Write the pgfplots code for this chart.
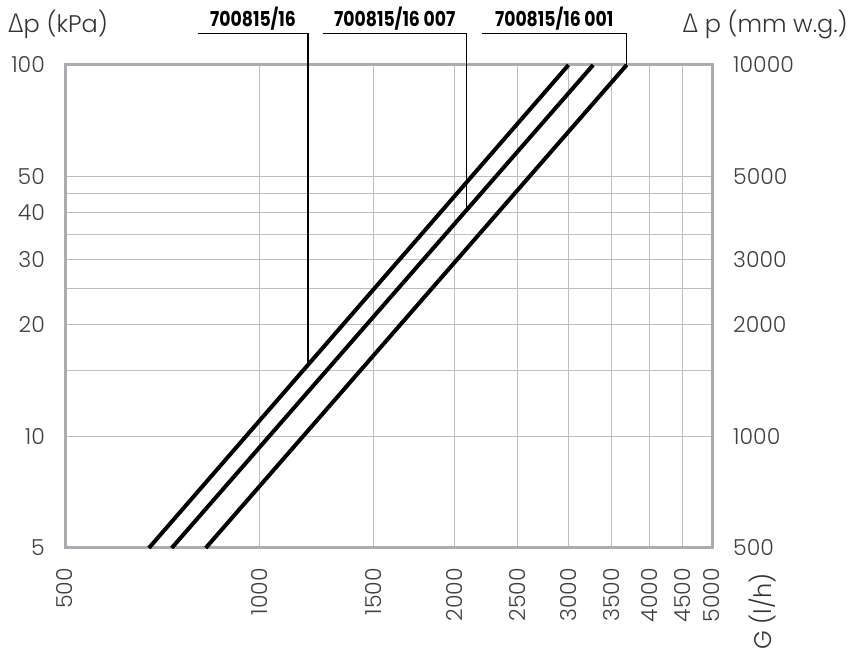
\documentclass[border=0pt]{standalone}
\usepackage{fontspec}
\setmainfont{Poppins}[UprightFont=* Light, BoldFont=* SemiBold]
\newfontfamily\dfont{Fira Sans}[UprightFont=* Light]
\newfontfamily\labfont{Poppins}[UprightFont=* Bold, FakeStretch=0.84]
\usepackage{pgfplots}
\pgfplotsset{compat=1.18}
\definecolor{gridc}{RGB}{190,190,190}
\definecolor{framec}{RGB}{172,172,176}
\begin{document}
\begin{tikzpicture}
\begin{axis}[
  scale only axis, width=647pt, height=483pt,
  xmode=log, ymode=log,
  xmin=500, xmax=5000, ymin=5, ymax=100,
  xtick={500,1000,1500,2000,2500,3000,3500,4000,4500,5000},
  xticklabels={500,1000,1500,2000,2500,3000,3500,4000,4500,5000},
  ytick={5,10,15,20,25,30,35,40,45,50,100},
  yticklabels={5,10,,20,,30,,40,,50,100},
  minor tick num=0,
  major tick length=0pt,
  grid=major,
  grid style={draw=gridc, line width=1.2pt},
  axis line style={draw=framec, line width=3pt},
  tick label style={font=\fontsize{22}{24}\selectfont, text=black!75},
  xticklabel style={rotate=90, anchor=east, inner sep=0pt},
  xticklabel shift=20pt,
  yticklabel style={anchor=east, inner sep=0pt},
  yticklabel shift=20pt,
  clip=false,
  ylabel={{\dfont\fontsize{27}{29}\selectfont Δ}p (kPa)},
  every axis y label/.style={at={(rel axis cs:0,1)}, anchor=base west, inner sep=0pt, xshift=-57pt, yshift=32pt, font=\fontsize{24}{26}\selectfont, text=black!80},
  xlabel={G (l/h)},
  every axis x label/.style={at={(rel axis cs:1,0)}, anchor=west, rotate=90, inner sep=0pt, font=\fontsize{24}{26}\selectfont, text=black!80},
  x label style={xshift=-102pt, yshift=-50pt},
]
\addplot[black, line width=4pt] coordinates {(674,5) (3000,100)};
\addplot[black, line width=4pt] coordinates {(731,5) (3275,100)};
\addplot[black, line width=4pt] coordinates {(825,5) (3690,100)};
% leaders
\draw[black, line width=1.3pt] (axis cs:802.5,121.6) -- (axis cs:1187,121.6) -- (axis cs:1187,15.56);
\draw[black, line width=1.3pt] (axis cs:1251,121.6) -- (axis cs:2089,121.6) -- (axis cs:2089,40.7);
\draw[black, line width=1.3pt] (axis cs:2203,121.6) -- (axis cs:3691,121.6) -- (axis cs:3691,100);
\node[anchor=base, inner sep=0pt, font=\labfont\fontsize{20.5}{22}\selectfont, yshift=7pt] at (axis cs:976.4,121.6) {700815/16};
\node[anchor=base, inner sep=0pt, font=\labfont\fontsize{20.5}{22}\selectfont, yshift=7pt] at (axis cs:1616.6,121.6) {700815/16 007};
\node[anchor=base, inner sep=0pt, font=\labfont\fontsize{20.5}{22}\selectfont, yshift=7pt] at (axis cs:2851.7,121.6) {700815/16 001};
\end{axis}
\begin{axis}[
  scale only axis, width=647pt, height=483pt,
  xmode=log, ymode=log,
  xmin=500, xmax=5000, ymin=500, ymax=10000,
  hide x axis,
  axis y line*=right,
  y axis line style={draw=none},
  ytick={500,1000,2000,3000,5000,10000},
  yticklabels={500,1000,2000,3000,5000,10000},
  minor tick num=0,
  major tick length=0pt,
  tick label style={font=\fontsize{22}{24}\selectfont, text=black!75},
  yticklabel pos=right,
  yticklabel style={anchor=west, inner sep=0pt},
  yticklabel shift=21pt,
  ylabel={{\dfont\fontsize{27}{29}\selectfont Δ} p (mm w.g.)},
  every axis y label/.style={at={(rel axis cs:1,1)}, anchor=base east, inner sep=0pt, xshift=136pt, yshift=32pt, font=\fontsize{24}{26}\selectfont, text=black!80},
]
\addplot[draw=none] coordinates {(1000,1000)};
\end{axis}
\pgfresetboundingbox
\path[use as bounding box] (-65pt,-105pt) rectangle (786pt,548pt);
\end{tikzpicture}
\end{document}
